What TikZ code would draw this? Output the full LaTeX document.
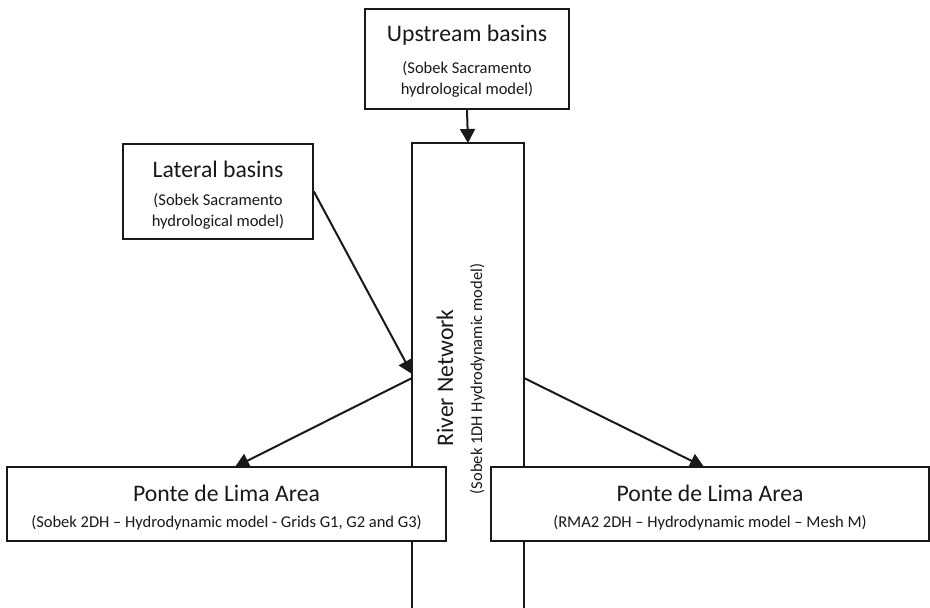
\documentclass[tikz,border=0pt]{standalone}
\usepackage{fontspec}
\setmainfont{Carlito}
\usetikzlibrary{arrows.meta}
\begin{document}
\begin{tikzpicture}[x=1pt,y=-1pt,
  box/.style={draw=black!90, line width=1.7pt, fill=white, inner sep=0pt},
  ttl/.style={font=\fontsize{23.7}{28}\selectfont, anchor=base, inner sep=0pt, text=black!90},
  sub/.style={font=\fontsize{16.5}{20}\selectfont, anchor=base, inner sep=0pt, text=black!90},
  conn/.style={line width=2pt, draw=black!90},
  arr/.style={conn, -{Triangle[length=14pt,width=15pt]}}]
\useasboundingbox (0,0) rectangle (930,608);
% river network box (open at bottom)
\node[minimum width=112pt, minimum height=470pt, anchor=north, inner sep=0pt] (river) at (468,143) {};
\draw[conn, line width=1.7pt] (river.south west) -- (river.north west) -- (river.north east) -- (river.south east);
% upstream
\node[box, minimum width=204pt, minimum height=100pt] (up) at (467,59) {};
\node[ttl] (upt) at (467,41) {Upstream basins};
\node[sub] (ups1) at (467,73) {(Sobek Sacramento};
\node[sub] (ups2) at (467,94) {hydrological model)};
% lateral
\node[box, minimum width=190pt, minimum height=95pt] (lat) at (218,191.5) {};
\node[ttl] (latt) at (218,177) {Lateral basins};
\node[sub] (lats1) at (218,205) {(Sobek Sacramento};
\node[sub] (lats2) at (218,226) {hydrological model)};
% Ponte boxes
\node[box, minimum width=439pt, minimum height=74pt] (pl) at (226.5,504) {};
\node[ttl] (plt) at (226.5,501) {Ponte de Lima Area};
\node[sub] (pls) at (226.5,527) {(Sobek 2DH – Hydrodynamic model - Grids G1, G2 and G3)};
\node[box, minimum width=438pt, minimum height=74pt] (pr) at (710,504) {};
\node[ttl] (prt) at (710,501) {Ponte de Lima Area};
\node[sub] (prs) at (710,527.5) {(RMA2 2DH – Hydrodynamic model – Mesh M)};
% river texts
\node[ttl, rotate=90] (rivt) at (453,378) {River Network};
\node[sub, rotate=90] (rivs) at (482,379) {(Sobek 1DH Hydrodynamic model)};
% coordinates
\coordinate (rin) at (412,374);
\coordinate (routl) at (412,378);
\coordinate (routr) at (524,378);
\coordinate (plin) at (235,467);
\coordinate (prin) at (704,467);
% connectors
\draw[arr] (up.south) -- (river.north);
\draw[arr] (lat.east) -- (rin);
\draw[arr] (routl) -- (plin);
\draw[arr] (routr) -- (prin);
\end{tikzpicture}
\end{document}
